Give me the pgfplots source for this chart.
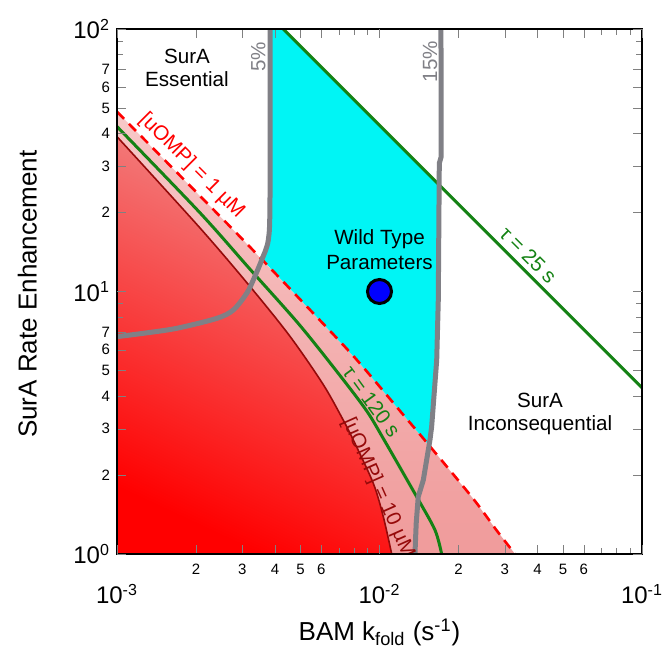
\documentclass[border=0pt]{standalone}
\usepackage{fontspec}
\setmainfont{Liberation Sans}
\usepackage{pgfplots}
\pgfplotsset{compat=1.18}

\definecolor{cyanfill}{RGB}{0,245,245}
\definecolor{pinktop}{RGB}{247,200,200}
\definecolor{pinkbot}{RGB}{240,155,155}
\definecolor{redtop}{RGB}{240,140,140}
\definecolor{tauGreen}{RGB}{20,130,20}
\definecolor{lineGray}{RGB}{128,128,134}
\definecolor{darkRed}{RGB}{150,10,10}
\tikzset{annot/.style={font=\fontsize{10.3}{11.5}\selectfont, align=center}}

\begin{document}
\begin{tikzpicture}
\begin{axis}[
    at={(0,0)}, anchor=south west,
    scale only axis, width=262.5pt, height=262.5pt,
    xmode=log, ymode=log,
    xmin=1e-3, xmax=1e-1, ymin=1, ymax=100,
    axis on top,
    axis line style={line width=1.2pt},
    ticklabel style={font=\fontsize{7.5}{9}\selectfont},
    xticklabel style={yshift=-1.5pt},
    xtick={0.002,0.003,0.004,0.005,0.006,0.02,0.03,0.04,0.05,0.06},
    xticklabels={2,3,4,5,6,2,3,4,5,6},
    minor xtick={0.007,0.008,0.009,0.07,0.08,0.09},
    extra x ticks={0.001,0.01,0.1},
    extra x tick labels={10\textsuperscript{-3},10\textsuperscript{-2},10\textsuperscript{-1}},
    extra x tick style={
        xticklabel style={font=\fontsize{12}{14}\selectfont, yshift=-10pt}},
    ytick={2,3,4,5,6,7,20,30,40,50,60,70},
    yticklabels={2,3,4,5,6,7,2,3,4,5,6,7},
    minor ytick={8,9,80,90},
    extra y ticks={1,10,100},
    extra y tick labels={10\textsuperscript{0},10\textsuperscript{1},10\textsuperscript{2}},
    extra y tick style={
        yticklabel style={font=\fontsize{12}{14}\selectfont}},
    xlabel={BAM k\textsubscript{fold} (s\textsuperscript{-1})},
    ylabel={SurA Rate Enhancement},
    x label style={at={(axis description cs:0.5,-0.149)}, anchor=center, font=\fontsize{13}{15}\selectfont},
    y label style={at={(axis description cs:-0.171,0.495)}, anchor=center, font=\fontsize{13}{15}\selectfont},
]
% region below [uOMP] = 1 uM
\addplot[draw=none, bottom color=pinkbot, top color=pinktop] coordinates {
    (0.001,1) (0.001,48.4) (0.002858,16.66) (0.005596,8.26) (0.008188,5.495)
    (0.01233,3.388) (0.01603,2.483) (0.02278,1.622) (0.02795,1.23) (0.03283,1.0)} -- cycle;
% region below [uOMP] = 10 uM
\addplot[draw=none, bottom color=red, top color=redtop, shading angle=-25] coordinates {
    (0.001,1) (0.001,38.9) (0.002071,17.46) (0.003212,10.45) (0.00456,6.75)
    (0.006107,4.42) (0.007278,3.236) (0.00795,2.719) (0.009471,1.859)
    (0.01034,1.387) (0.01113,1.0)} -- cycle;
% wild type region
\addplot[draw=none, fill=cyanfill] coordinates {
    (0.003558,13.3) (0.003771,15.71) (0.003827,22.3) (0.00383,100) (0.0043,100)
    (0.0169,25.4) (0.01675,9.28) (0.01652,5.48) (0.0158,3.05) (0.01545,2.59)
    (0.01233,3.388) (0.008188,5.495) (0.005596,8.26)} -- cycle;

% [uOMP] = 10 uM
\addplot[darkRed, line width=0.8pt, smooth] coordinates {
    (0.001,38.9) (0.002071,17.46) (0.003212,10.45) (0.00456,6.75)
    (0.006107,4.42) (0.007278,3.236) (0.00795,2.719) (0.009471,1.859)
    (0.01034,1.387) (0.01113,1.0)};
% tau = 120 s
\addplot[tauGreen, line width=1.5pt, smooth] coordinates {
    (0.001,42.5) (0.002071,19.95) (0.003212,12.16) (0.004936,7.5) (0.007071,4.786)
    (0.008939,3.508) (0.01034,2.754) (0.01386,1.652) (0.01627,1.234) (0.01725,1.0)};
% [uOMP] = 1 uM
\addplot[red, line width=1.3pt, dash pattern=on 5pt off 3.5pt, smooth] coordinates {
    (0.001,48.4) (0.002858,16.66) (0.005596,8.26) (0.008188,5.495)
    (0.01233,3.388) (0.01603,2.483) (0.02278,1.622) (0.02795,1.23) (0.03283,1.0)};
% tau = 25 s
\addplot[tauGreen, line width=1.5pt] coordinates {(0.0043,100) (0.1,4.3)};
% 5% and 15% contours
\addplot[lineGray, line width=2.5pt, smooth] coordinates {
    (0.00383,100) (0.003827,22.3) (0.003771,15.71) (0.003558,13.18) (0.003305,11.06)
    (0.00312,9.84) (0.002773,8.5) (0.002398,7.9) (0.001688,7.24) (0.00126,6.93) (0.001,6.73)};
\addplot[lineGray, line width=2.5pt] coordinates {
    (0.01715,100) (0.01718,32.6) (0.0169,30.8) (0.01675,9.28) (0.01652,5.48)
    (0.0158,3.05) (0.01557,2.719) (0.01469,1.914) (0.01405,1.652) (0.0138,1.309) (0.01365,1.0)};
% wild type parameters
\addplot[only marks, mark=*, mark size=6pt,
    mark options={fill=blue, draw=black, line width=1.5pt}] coordinates {(0.01,10)};

\node[annot] at (axis cs:0.001848,71) {SurA\\Essential};
\node[annot, text=lineGray, rotate=90] at (axis cs:0.003454,78.4) {5\%};
\node[annot, text=lineGray, rotate=90] at (axis cs:0.01557,75.1) {15\%};
\node[annot, font=\fontsize{10.3}{12.5}\selectfont] at (axis cs:0.01,14.5) {Wild Type\\Parameters};
\node[annot, text=tauGreen, rotate=-45] at (axis cs:0.0369,13.77) {τ = 25 s};
\node[annot] at (axis cs:0.04087,3.42) {SurA\\Inconsequential};
\node[annot, text=red, rotate=-45] at (axis cs:0.001925,30.1) {[uOMP] = 1 µM};
\node[annot, text=tauGreen, rotate=-54] at (axis cs:0.00934,3.8) {τ = 120 s};
\node[annot, text=darkRed, rotate=-66] at (axis cs:0.00987,1.784) {[uOMP] = 10 µM};
\end{axis}
\pgfresetboundingbox
\path (-58.5pt,-51pt) rectangle (272.5pt,277pt);
\end{tikzpicture}
\end{document}
